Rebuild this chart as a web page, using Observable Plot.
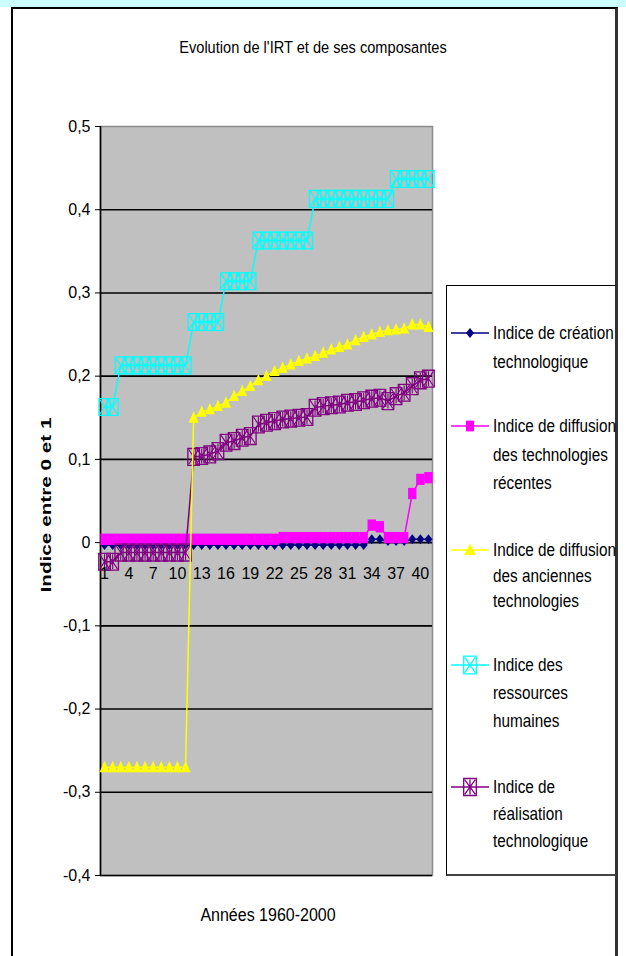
<!DOCTYPE html>
<html><head><meta charset="utf-8">
<script src="https://cdn.jsdelivr.net/npm/d3@7"></script>
<script src="https://cdn.jsdelivr.net/npm/@observablehq/plot@0.6"></script>
<style>
body{margin:0;background:#fff;font-family:"Liberation Sans",Arial,sans-serif;}
#wrap{position:relative;width:626px;height:956px;overflow:hidden;background:#fff;}
#band{position:absolute;left:0;top:0;width:626px;height:7px;background:#ccffff;}
#frame{position:absolute;left:11px;top:7px;width:602px;height:980px;border-left:2px solid #000;border-top:2px solid #000;border-right:3px solid #333;}
#chart{position:absolute;left:0;top:0;}
.t{position:absolute;white-space:nowrap;color:#000;}
#title{left:0;width:626px;top:47px;text-align:center;font-size:14.6px;transform:translateY(-50%) scale(1,1.12);}
#ylab{left:45px;top:505px;font-size:15px;font-weight:bold;transform:translate(-50%,-50%) rotate(-90deg) scale(1.38,1);}
#xlab{left:268px;top:915px;font-size:16px;transform:translate(-50%,-50%) scale(1,1.15);}
#legend{position:absolute;left:446px;top:285px;width:168px;height:588px;border:1.5px solid #000;border-right:2px solid #333;border-bottom:2px solid #444;background:#fff;}
.ll{position:absolute;left:493px;font-size:15.3px;line-height:18px;transform:translateY(-50%) scale(1,1.22);transform-origin:left center;}
.lm{position:absolute;left:449px;}
</style></head><body><div id="wrap">
<div id="band"></div><div id="frame"></div>
<div id="legend"></div>
<div id="chart"></div>
<div id="title" class="t">Evolution de l'IRT et de ses composantes</div>
<div id="ylab" class="t">Indice entre 0 et 1</div>
<div id="xlab" class="t">Années 1960-2000</div>
</div>
<script>
// categories (years 1960-2000 numbered 1..41)
const years = [1,2,3,4,5,6,7,8,9,10,11,12,13,14,15,16,17,18,19,20,21,22,23,24,25,26,27,28,29,30,31,32,33,34,35,36,37,38,39,40,41];
const xTickLabels = [1,4,7,10,13,16,19,22,25,28,31,34,37,40];
const yTickValues = [-0.4,-0.3,-0.2,-0.1,0,0.1,0.2,0.3,0.4,0.5];

const creation = [-0.003,-0.003,-0.003,-0.003,-0.003,-0.003,-0.003,-0.003,-0.003,-0.003,-0.003,-0.003,-0.003,-0.003,-0.003,-0.003,-0.003,-0.003,-0.003,-0.003,-0.003,-0.003,-0.003,-0.003,-0.003,-0.003,-0.003,-0.003,-0.003,-0.003,-0.003,-0.003,-0.003,0.004,0.004,0.002,0.002,0.002,0.004,0.004,0.004];
const diffRecentes = [0.004,0.004,0.004,0.004,0.004,0.004,0.004,0.004,0.004,0.004,0.004,0.004,0.004,0.004,0.004,0.004,0.004,0.004,0.004,0.004,0.004,0.004,0.006,0.006,0.006,0.006,0.006,0.006,0.006,0.006,0.006,0.006,0.006,0.021,0.019,0.006,0.006,0.006,0.059,0.076,0.078];
const diffAnciennes = [-0.27,-0.27,-0.27,-0.27,-0.27,-0.27,-0.27,-0.27,-0.27,-0.27,-0.27,0.150,0.157,0.160,0.164,0.168,0.176,0.182,0.188,0.195,0.200,0.206,0.210,0.214,0.218,0.221,0.224,0.228,0.232,0.235,0.238,0.243,0.247,0.250,0.253,0.255,0.256,0.257,0.262,0.262,0.259];
const ressources = [0.163,0.163,0.213,0.213,0.213,0.213,0.213,0.213,0.213,0.213,0.213,0.265,0.265,0.265,0.265,0.314,0.314,0.314,0.314,0.363,0.363,0.363,0.363,0.363,0.363,0.363,0.413,0.413,0.413,0.413,0.413,0.413,0.413,0.413,0.413,0.413,0.437,0.437,0.437,0.437,0.437];
const realisation = [-0.023,-0.023,-0.012,-0.012,-0.012,-0.012,-0.012,-0.012,-0.012,-0.012,-0.012,0.103,0.104,0.106,0.110,0.120,0.122,0.126,0.128,0.142,0.144,0.146,0.148,0.149,0.150,0.151,0.162,0.164,0.165,0.166,0.168,0.169,0.171,0.173,0.174,0.170,0.176,0.180,0.188,0.195,0.197];

const legendLines = [["Indice de création","technologique"],["Indice de diffusion","des technologies","récentes"],["Indice de diffusion","des anciennes","technologies"],["Indice des","ressources","humaines"],["Indice de","réalisation","technologique"]];
const colors = ["#000080","#ff00ff","#ffff00","#00ffff","#800080"];

const rows = years.map((yr,i)=>({yr, creation:creation[i], recentes:diffRecentes[i], anciennes:diffAnciennes[i], ressources:ressources[i], realisation:realisation[i]}));

const fmt = d => d === 0 ? "0" : d.toFixed(1).replace(".", ",");

// vertically stretched marker shapes (Excel markers in a stretched picture); r = half width
const half = size => Math.sqrt(size / Math.PI);
const box = k => ({draw(c, size){ const w = half(size), h = w * k; c.rect(-w, -h, 2*w, 2*h); }});
const boxX = k => ({draw(c, size){ const w = half(size)*0.85, h = half(size)*k*0.88; c.moveTo(-w,-h); c.lineTo(w,h); c.moveTo(w,-h); c.lineTo(-w,h); }});
const boxAst = k => ({draw(c, size){ const w = half(size)*0.85, h = half(size)*k*0.88; c.moveTo(-w,-h); c.lineTo(w,h); c.moveTo(w,-h); c.lineTo(-w,h); c.moveTo(0,-h); c.lineTo(0,h); }});
const tri = k => ({draw(c, size){ const w = half(size), h = w * k; c.moveTo(0,-h); c.lineTo(w,h*0.75); c.lineTo(-w,h*0.75); c.closePath(); }});
const dia = k => ({draw(c, size){ const w = half(size), h = w * k; c.moveTo(0,-h); c.lineTo(w,0); c.lineTo(0,h); c.lineTo(-w,0); c.closePath(); }});

const symBox = box(1.5), symX = boxX(1.5), symAst = boxAst(1.45), symBoxP = box(1.45);
const symPink = box(1.35), symTri = tri(1.3), symDia = dia(1.25);

const chart = Plot.plot({
  width: 626, height: 956,
  marginTop: 126, marginBottom: 81, marginLeft: 100, marginRight: 194,
  style: {background: "none", fontFamily: "'Liberation Sans', Arial, sans-serif", fontSize: "16px", color: "#000"},
  x: {domain: [0.5, 41.5], axis: null},
  y: {domain: [-0.4, 0.5], axis: null},
  marks: [
    Plot.frame({fill: "#c0c0c0", stroke: "#8a8a8a", strokeWidth: 1.5}),
    Plot.ruleY(yTickValues.filter(d => d < 0.45), {stroke: "#000", strokeWidth: 1.6}),
    Plot.axisY({ticks: yTickValues, tickFormat: fmt, tickSize: 5, tickPadding: 5, fontSize: 16, label: null, stroke: "#000"}),
    Plot.ruleX([0.5], {stroke: "#000", strokeWidth: 1.6}),
    // création technologique
    Plot.line(rows, {x: "yr", y: "creation", stroke: colors[0], strokeWidth: 1.5}),
    Plot.dot(rows, {x: "yr", y: "creation", symbol: symDia, r: 4, fill: colors[0], stroke: "none"}),
    // diffusion technologies récentes
    Plot.line(rows, {x: "yr", y: "recentes", stroke: colors[1], strokeWidth: 1.5}),
    Plot.dot(rows, {x: "yr", y: "recentes", symbol: symPink, r: 4.2, fill: colors[1], stroke: "none"}),
    // ressources humaines
    Plot.line(rows, {x: "yr", y: "ressources", stroke: colors[3], strokeWidth: 1.5}),
    Plot.dot(rows, {x: "yr", y: "ressources", symbol: symBox, r: 5.6, fill: "none", stroke: colors[3], strokeWidth: 1.3}),
    Plot.dot(rows, {x: "yr", y: "ressources", symbol: symX, r: 5.6, stroke: colors[3], strokeWidth: 1.1}),
    // réalisation technologique
    Plot.line(rows, {x: "yr", y: "realisation", stroke: colors[4], strokeWidth: 1.5}),
    Plot.dot(rows, {x: "yr", y: "realisation", symbol: symBoxP, r: 5.8, fill: "none", stroke: colors[4], strokeWidth: 1.3}),
    Plot.dot(rows, {x: "yr", y: "realisation", symbol: symAst, r: 5.8, stroke: colors[4], strokeWidth: 1.1}),
    // diffusion anciennes technologies
    Plot.line(rows, {x: "yr", y: "anciennes", stroke: colors[2], strokeWidth: 1.5}),
    Plot.dot(rows, {x: "yr", y: "anciennes", symbol: symTri, r: 5, fill: colors[2], stroke: "none"}),
    // category labels crossing at 0
    Plot.text(xTickLabels, {x: d => d, y: () => 0, text: d => String(d), dy: 31, fontSize: 16, fill: "#000", ariaLabel: "xticks"})
  ]
});
document.getElementById("chart").appendChild(chart);

// stretch category labels vertically like the reference
chart.querySelectorAll('g[aria-label="xticks"] text').forEach(el => {
  let tr = el.getAttribute("transform");
  if (!tr) {
    const x = el.getAttribute("x") || 0, y = el.getAttribute("y") || 0;
    el.removeAttribute("x"); el.removeAttribute("y");
    tr = `translate(${x},${y})`;
  }
  el.setAttribute("transform", tr + " scale(1,1.35)");
});

// legend
const wrap = document.getElementById("wrap");
const entryY = [[333,362],[426,455,483],[550,576,601],[665,693,721],[787,814,841]];
const symDefs = [
  [{type: symDia, r: 4, fill: colors[0], stroke: "none"}],
  [{type: symPink, r: 4, fill: colors[1], stroke: "none"}],
  [{type: tri(1.1), r: 6, fill: colors[2], stroke: "none"}],
  [{type: box(1.4), r: 6.3, fill: "none", stroke: colors[3]}, {type: boxX(1.4), r: 6.3, fill: "none", stroke: colors[3]}],
  [{type: box(1.35), r: 6.3, fill: "none", stroke: colors[4]}, {type: boxAst(1.35), r: 6.3, fill: "none", stroke: colors[4]}]
];
legendLines.forEach((lines, i) => {
  const svg = d3.create("svg").attr("width", 42).attr("height", 24).attr("class", "lm")
    .style("top", (entryY[i][0] - 12) + "px");
  svg.append("line").attr("x1", 2).attr("x2", 40).attr("y1", 12).attr("y2", 12).attr("stroke", colors[i]).attr("stroke-width", 1.5);
  symDefs[i].forEach(s => {
    svg.append("path").attr("transform", "translate(21,12)")
      .attr("d", d3.symbol(s.type, Math.PI * s.r * s.r)())
      .attr("fill", s.fill).attr("stroke", s.stroke).attr("stroke-width", 1.3);
  });
  wrap.appendChild(svg.node());
  lines.forEach((txt, j) => {
    const d = document.createElement("div");
    d.className = "t ll";
    d.style.top = entryY[i][j] + "px";
    d.textContent = txt;
    wrap.appendChild(d);
  });
});
</script>
</body></html>
